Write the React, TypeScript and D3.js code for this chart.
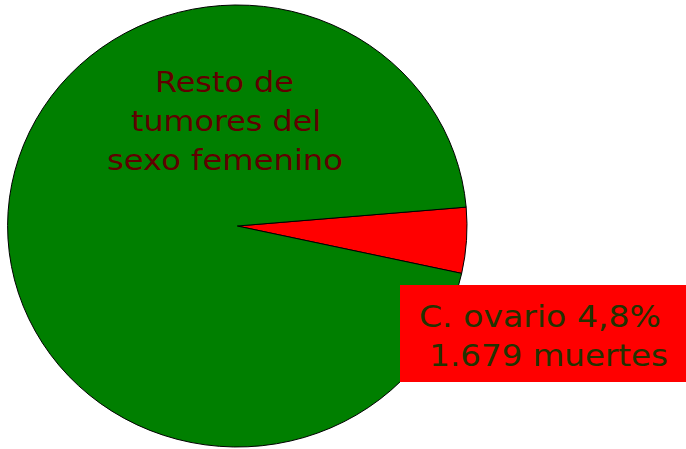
import React from "react";
import * as d3 from "d3";

const categories = ["C. ovario", "Resto de tumores del sexo femenino"];
const values = [1679, 33300];
const colors = ["#ff0000", "#007f00"];
const centerLines = ["Resto de", "tumores del", "sexo femenino"];
const labelLines = ["C. ovario 4,8%", " 1.679 muertes"];

export default function App() {
  const W = 686, H = 449;
  const cx = 237.3, cy = 226, rx = 229.7, ry = 221;
  const start = (85.1 * Math.PI) / 180;
  const pie = d3.pie<number>().sort(null).startAngle(start).endAngle(start + 2 * Math.PI);
  const arcs = pie(values);
  const arc = d3.arc<d3.PieArcDatum<number>>().innerRadius(0).outerRadius(rx);
  const font = "'DejaVu Sans', Verdana, sans-serif";
  const centerX = [155, 131, 107];
  const centerW = [139, 190, 236];
  const labelW = [242, 249];
  return (
    <svg width={W} height={H} style={{ position: "absolute", left: 0, top: 0, display: "block" }}>
      <rect width={W} height={H} fill="#fff" />
      <g transform={`translate(${cx},${cy}) scale(1,${ry / rx})`}>
        {arcs.map((a, i) => (
          <path key={categories[i]} d={arc(a) || ""} fill={colors[i]} stroke="#000" strokeWidth={1} vectorEffect="non-scaling-stroke" />
        ))}
      </g>
      <text fontFamily={font} fontSize={29} fill="#600000">
        {centerLines.map((l, i) => (
          <tspan key={i} x={centerX[i]} y={92 + i * 39} textLength={centerW[i]} lengthAdjust="spacingAndGlyphs">{l}</tspan>
        ))}
      </text>
      <rect x={400} y={285} width={286} height={97} fill="#ff0000" />
      <text fontFamily={font} fontSize={29.5} fill="#223300" style={{ whiteSpace: "pre" }}>
        {labelLines.map((l, i) => (
          <tspan key={i} x={419} y={327 + i * 38.5} textLength={labelW[i]} lengthAdjust="spacingAndGlyphs">{l}</tspan>
        ))}
      </text>
    </svg>
  );
}
